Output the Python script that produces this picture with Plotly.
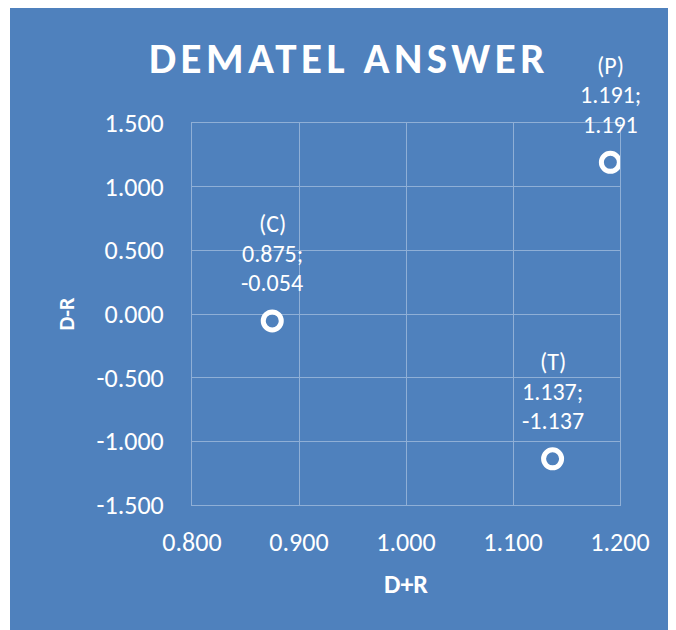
import plotly.graph_objects as go

# Data
labels = ["C", "P", "T"]
d_plus_r = [0.875, 1.191, 1.137]
d_minus_r = [-0.054, 1.191, -1.137]
x_ticks = [0.8, 0.9, 1.0, 1.1, 1.2]
y_ticks = [-1.5, -1.0, -0.5, 0.0, 0.5, 1.0, 1.5]
x_ticktext = [f"{v:.3f}" for v in x_ticks]
y_ticktext = [f"{v:.3f}" for v in y_ticks]

BLUE = "#4F81BD"
GRID = "#8FAFD6"
FONT = "Calibri, Carlito, Lato, sans-serif"

W, H = 676, 630
L, R, T, B = 184, 64, 115, 133
pw, ph = W - L - R, H - T - B

fig = go.Figure()
fig.add_trace(go.Scatter(
    x=d_plus_r, y=d_minus_r, mode="markers",
    marker=dict(symbol="circle-open", size=18, color="white",
                line=dict(color="white", width=5)),
    hoverinfo="skip", showlegend=False,
))

for lab, xv, yv in zip(labels, d_plus_r, d_minus_r):
    lines = [f"({lab})", f"{xv:.3f};", f"{yv:.3f}"]
    for txt, shift in zip(lines, [97, 67.5, 38]):
        fig.add_annotation(
            x=xv, y=yv, xref="x", yref="y", text=txt,
            showarrow=False, yanchor="middle", xanchor="center", yshift=shift,
            font=dict(family=FONT, size=24, color="white"),
        )

# thin white strip at far left
fig.add_shape(type="rect", xref="paper", yref="paper", layer="below",
              x0=-L / pw - 0.05, x1=(2 - L) / pw, y0=-B / ph - 0.1, y1=(H - B) / ph + 0.1,
              fillcolor="white", line=dict(width=0))

fig.update_layout(
    width=W, height=H,
    margin=dict(l=L, r=R, t=T, b=B, autoexpand=False),
    paper_bgcolor=BLUE, plot_bgcolor=BLUE,
    font=dict(family=FONT, color="white"),
    title=dict(text="<b>DEMATEL ANSWER</b>", x=341 / W, xanchor="center",
               y=1 - 50 / H, yanchor="middle", yref="container",
               font=dict(family=FONT, size=43, color="white")),
)
fig.update_xaxes(
    range=[0.8, 1.2], tickvals=x_ticks, ticktext=x_ticktext,
    showgrid=True, gridcolor=GRID, gridwidth=1, zeroline=False,
    showline=True, mirror=True, linecolor=GRID, linewidth=1,
    ticks="", ticklabelstandoff=14,
    tickfont=dict(family=FONT, size=26, color="white"),
    title=dict(text="<b>D+R</b>", standoff=17,
               font=dict(family=FONT, size=26, color="white")),
)
fig.update_yaxes(
    range=[-1.5, 1.5], tickvals=y_ticks, ticktext=y_ticktext,
    showgrid=True, gridcolor=GRID, gridwidth=1, zeroline=False,
    showline=True, mirror=True, linecolor=GRID, linewidth=1,
    ticks="", ticklabelstandoff=22,
    tickfont=dict(family=FONT, size=26, color="white"),
    title=dict(text="<b>D-R</b>", standoff=15,
               font=dict(family=FONT, size=22, color="white")),
)

post = """
document.querySelectorAll('.gtitle').forEach(function(e){
  e.style.letterSpacing = '4.5px';
});
"""
fig.write_html("out.html", post_script=post)
